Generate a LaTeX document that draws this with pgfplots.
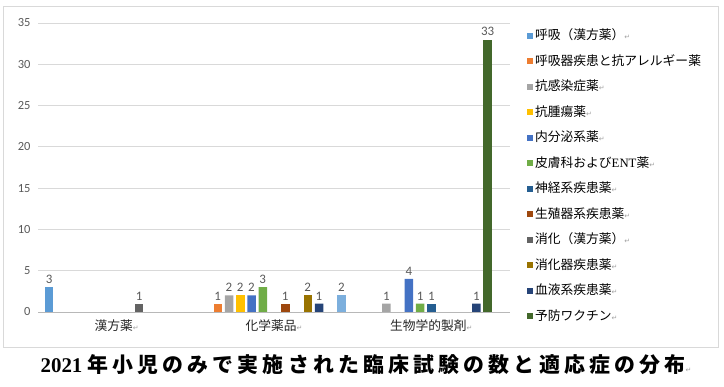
\documentclass[border=0pt]{standalone}
\usepackage{pgfplots}
\pgfplotsset{compat=1.18}
\usepackage{fontspec}
\setmainfont{Carlito}
\newfontfamily\jp{Noto Sans CJK JP}
\newfontfamily\jpt{Noto Sans CJK JP}[LetterSpace=20]
\newfontfamily\dv{DejaVu Sans}
\newfontfamily\tms{Liberation Serif}
\definecolor{c1}{HTML}{5B9BD5}
\definecolor{c2}{HTML}{ED7D31}
\definecolor{c3}{HTML}{A5A5A5}
\definecolor{c4}{HTML}{FFC000}
\definecolor{c5}{HTML}{4472C4}
\definecolor{c6}{HTML}{70AD47}
\definecolor{c7}{HTML}{255E91}
\definecolor{c8}{HTML}{9E480E}
\definecolor{c9}{HTML}{636363}
\definecolor{c10}{HTML}{997300}
\definecolor{c11}{HTML}{264478}
\definecolor{c12}{HTML}{43682B}
\definecolor{c13}{HTML}{7CAFDD}
\definecolor{lab}{HTML}{595959}
\definecolor{gridc}{HTML}{D9D9D9}
\newcommand\ret{{\dv\fontsize{7}{7}\selectfont\color[HTML]{A0A0A0}↵}}
\begin{document}
\begin{tikzpicture}
\useasboundingbox (0bp,0bp) rectangle (724bp,387bp);
\draw[color=gridc, line width=0.8bp] (3bp,40bp) rectangle (718bp,381bp);
\begin{axis}[at={(38bp,75bp)}, anchor=south west, scale only axis,
  width=472bp, height=289bp,
  ymin=0, ymax=35, ytick={0,5,...,35},
  xmin=-0.5, xmax=2.5, xtick={0,1,2},
  xticklabels={{\jp 漢方薬\ret},{\jp 化学薬品\ret},{\jp 生物学的製剤\ret}},
  x tick label style={font=\fontsize{12.8}{12.8}\selectfont, text=black!85},
  y tick label style={font=\fontsize{12.5}{12.5}\selectfont, text=lab},
  /pgf/number format/assume math mode=true,
  major x tick style={draw=none},
  extra x ticks={-0.5,0.5,1.5,2.5}, extra x tick labels={},
  extra x tick style={grid=none, major tick length=5bp, tick align=outside, tick style={draw=gridc!80!black, line width=0.7bp}},
  axis lines*=left,
  x axis line style={draw=gridc!85!black, line width=0.8bp, -},
  y axis line style={draw=none},
  major y tick style={draw=none},
  ymajorgrids, grid style={draw=gridc, line width=0.8bp},
  yticklabel style={xshift=-4bp},
  ybar=2.75bp, bar width=8.5bp,
  nodes near coords,
  every node near coord/.append style={font=\fontsize{13}{13}\selectfont, text=lab},
  legend style={at={(1.035,0.978)}, anchor=north west, draw=none, fill=none,
    inner sep=0pt, row sep=13bp, font=\jp\fontsize{12.8}{12.8}\selectfont,
    nodes={text height=10bp, text depth=2.5bp, inner ysep=0pt, inner xsep=2.5bp}},
  legend cell align=left,
  legend image code/.code={\fill[#1,draw=none] (0bp,-3bp) rectangle (6bp,3bp);},
]
\addplot[fill=c1,draw=none] coordinates {(0,3)};
\addplot[fill=c2,draw=none] coordinates {(1,1)};
\addplot[fill=c3,draw=none] coordinates {(1,2) (2,1)};
\addplot[fill=c4,draw=none] coordinates {(1,2)};
\addplot[fill=c5,draw=none] coordinates {(1,2) (2,4)};
\addplot[fill=c6,draw=none] coordinates {(1,3) (2,1)};
\addplot[fill=c7,draw=none] coordinates {(2,1)};
\addplot[fill=c8,draw=none] coordinates {(1,1)};
\addplot[fill=c9,draw=none] coordinates {(0,1)};
\addplot[fill=c10,draw=none] coordinates {(1,2)};
\addplot[fill=c11,draw=none] coordinates {(1,1) (2,1)};
\addplot[fill=c12,draw=none] coordinates {(2,33)};
\addplot[fill=c13,draw=none] coordinates {(1,2)};
\legend{呼吸（漢方薬）\ret, 呼吸器疾患と抗アレルギー薬, 抗感染症薬\ret, 抗腫瘍薬\ret, 内分泌系薬\ret, 皮膚科および{\tms ENT}薬\ret, 神経系疾患薬\ret, 生殖器系疾患薬\ret, 消化（漢方薬）\ret, 消化器疾患薬\ret, 血液系疾患薬\ret, 予防ワクチン\ret}
\end{axis}
\node[font=\fontsize{21}{21}\selectfont, text=black] at (366bp,22bp) {{\tms\bfseries 2021} {\jpt\bfseries 年小児のみで実施された臨床試験の数と適応症の分布}\ret};
\end{tikzpicture}
\end{document}
